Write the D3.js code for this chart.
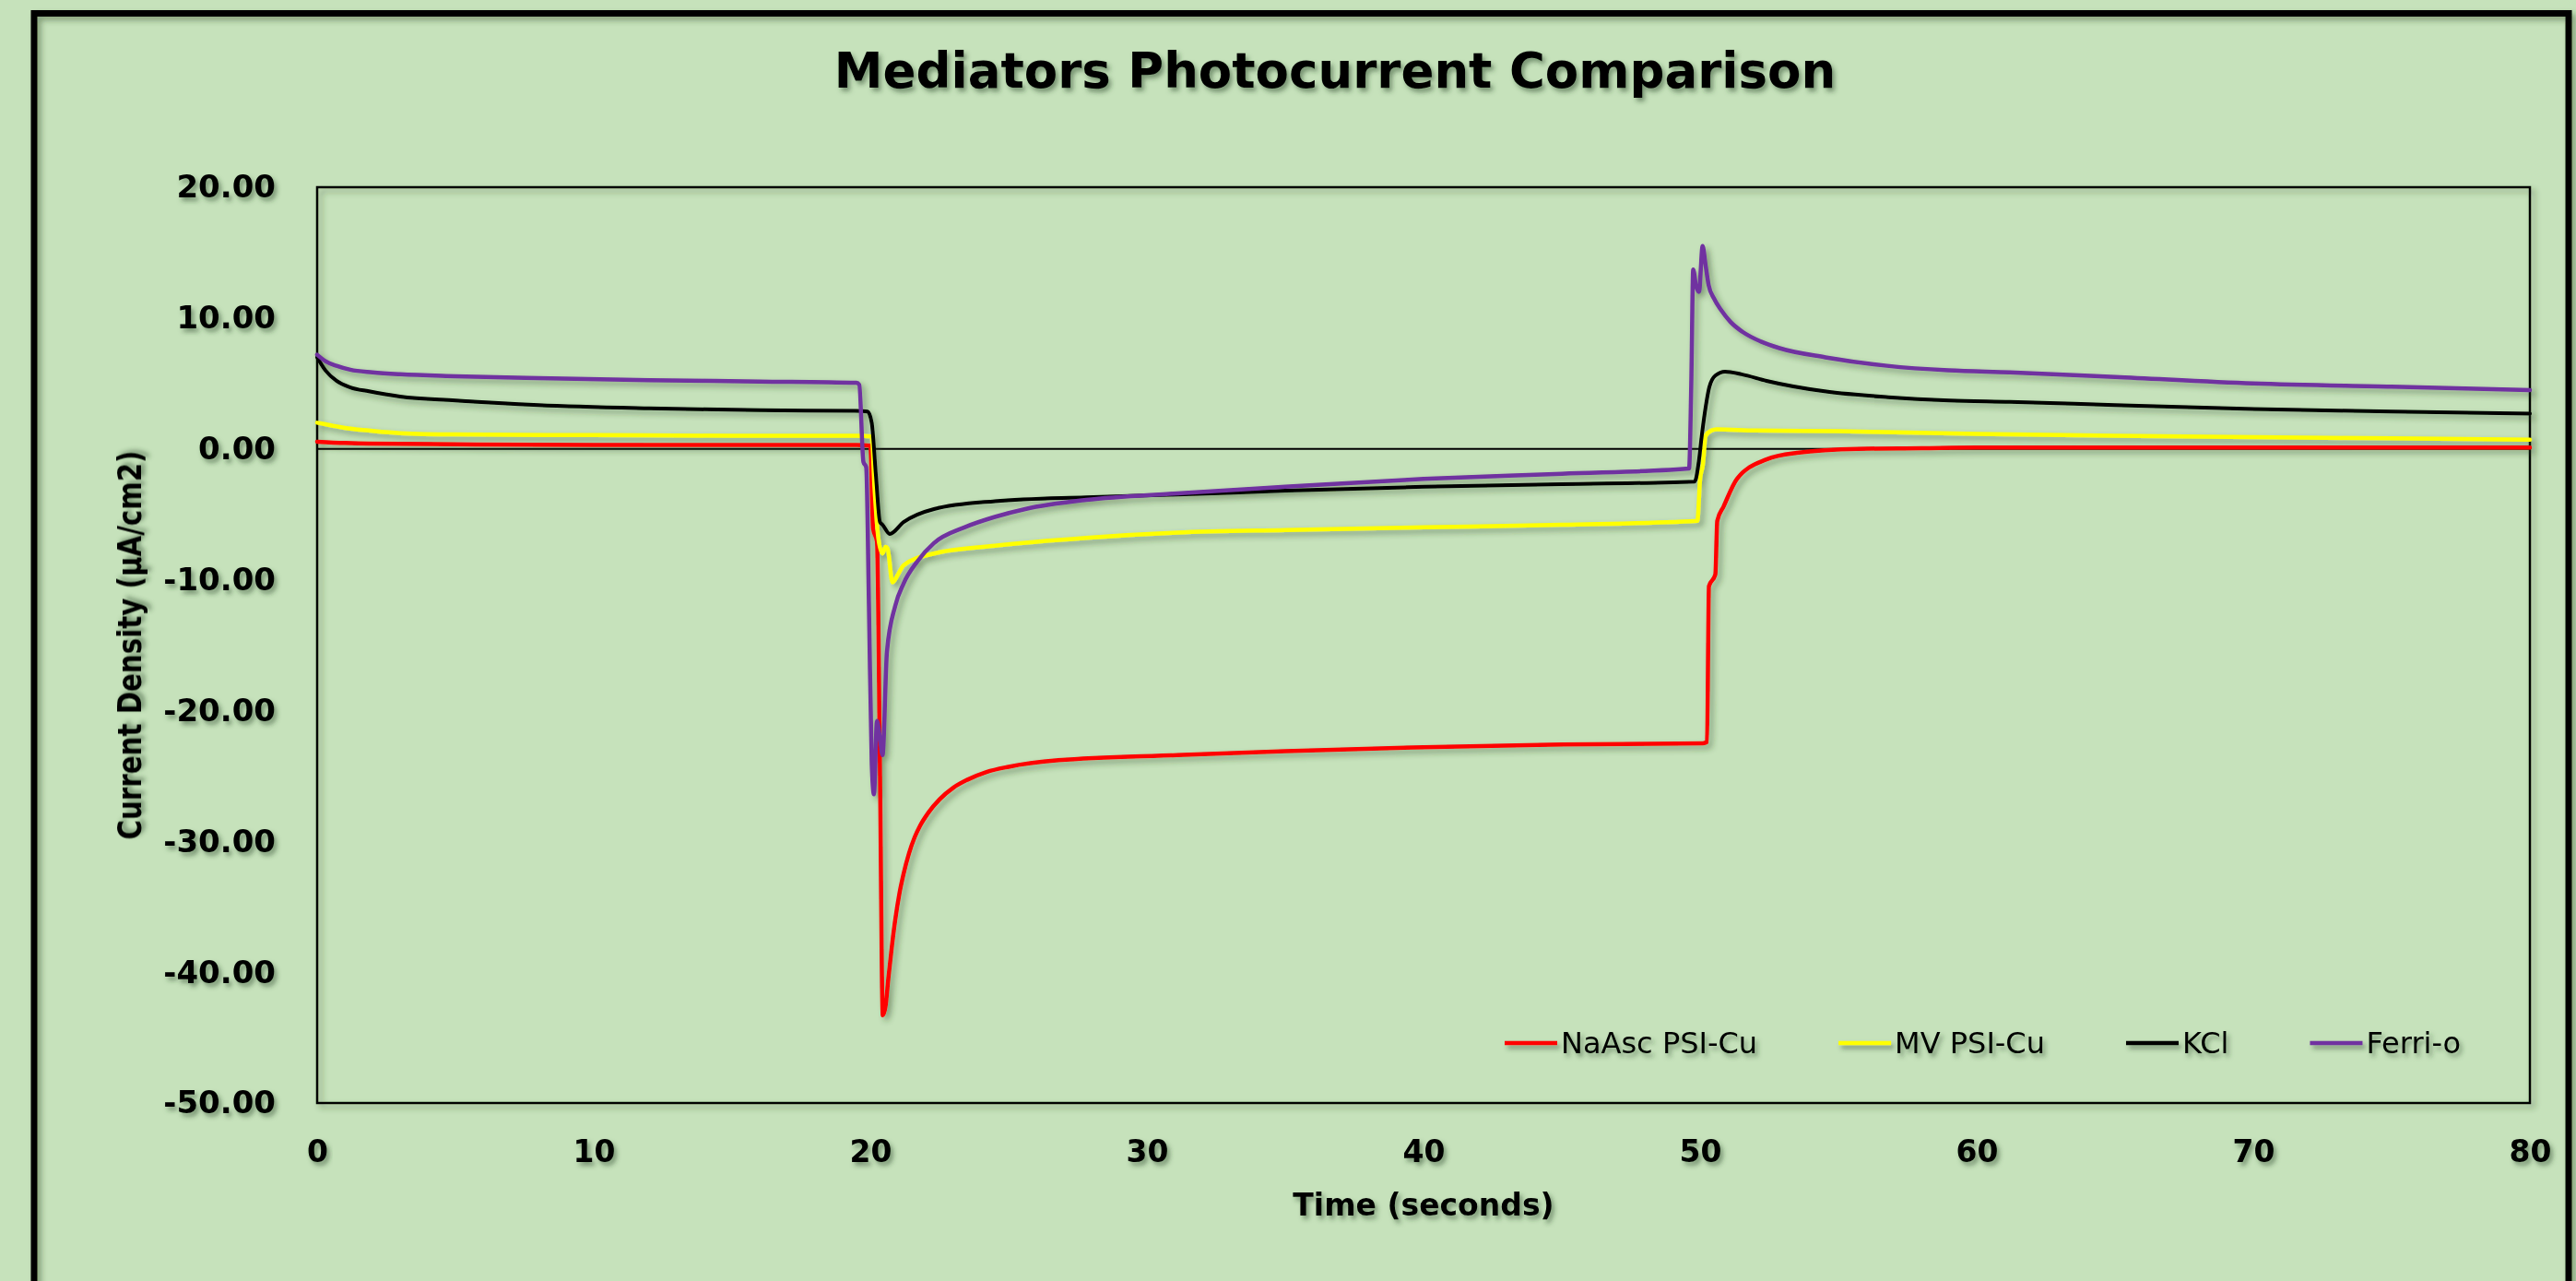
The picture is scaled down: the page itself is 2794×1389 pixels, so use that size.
<!DOCTYPE html>
<html><head><meta charset="utf-8">
<script src="https://cdn.jsdelivr.net/npm/d3@7"></script>
<style>
html,body{margin:0;padding:0;background:#c6e2bb;overflow:hidden;}
svg{display:block;}
</style></head>
<body>
<svg id="chart" width="2794" height="1389"></svg>
<script>
// ---------- data ----------
const chartTitle = "Mediators Photocurrent Comparison";
const xTitle = "Time (seconds)";
const yTitle = "Current Density (µA/cm2)";
const xTicks = [0, 10, 20, 30, 40, 50, 60, 70, 80];
const yTicks = [20, 10, 0, -10, -20, -30, -40, -50];
const seriesNames = ["NaAsc PSI-Cu", "MV PSI-Cu", "KCl", "Ferri-o"];
const seriesColors = ["#ff0000", "#ffff00", "#000000", "#7030a0"];

const naAscT = [0,1,1.87,5,10,15,19.5,20.0,20.1,20.24,20.35,20.45,20.55,20.65,20.78,20.9,21.05,21.2,21.4,21.6,21.8,22.1,22.5,23.0,23.5,24.2,25.0,26.8,31.1,35,40,45,50.1,50.25,50.32,50.55,50.62,50.85,51.33,52.4,53.5,55.7,58,60,65,70,75,80];
const naAscV = [0.55,0.45,0.4,0.35,0.3,0.3,0.3,0.25,-6.1,-7.1,-25,-43.3,-42.6,-40.5,-38.0,-36.0,-34.0,-32.5,-30.9,-29.7,-28.8,-27.8,-26.8,-25.9,-25.3,-24.7,-24.3,-23.8,-23.4,-23.1,-22.8,-22.6,-22.5,-22.4,-10.5,-9.6,-5.5,-4.4,-2.3,-0.8,-0.3,0.0,0.05,0.1,0.1,0.1,0.1,0.1];

const mvT = [0,0.5,1,1.87,3,5,10,15,19.5,20.05,20.15,20.3,20.44,20.55,20.62,20.8,21.0,21.2,22.3,24.5,27.8,31.1,35,40,45,49.9,50.0,50.1,50.2,50.4,50.6,52,55,60,65,70,75,80];
const mvV = [2.0,1.8,1.6,1.4,1.2,1.1,1.05,1.0,1.0,0.95,-3,-7,-8.0,-7.5,-7.6,-10.2,-9.6,-8.9,-8.0,-7.4,-6.8,-6.4,-6.2,-6.0,-5.8,-5.5,-2.3,-1.2,1.0,1.4,1.5,1.4,1.35,1.15,1.0,0.9,0.8,0.7];

const kclT = [0,0.3,0.7,1.2,1.87,3,5,8,12,16,19.5,19.9,20.05,20.2,20.35,20.44,20.7,21.2,22.3,24.5,27.8,31.1,35,40,45,49.8,49.95,50.05,50.2,50.33,50.55,50.9,51.5,52.4,54.5,56.8,59,61.2,65,70,75,80];
const kclV = [7.0,6.0,5.2,4.7,4.4,4.0,3.7,3.35,3.1,2.95,2.9,2.85,2.0,-2.0,-5.6,-5.8,-6.5,-5.6,-4.6,-4.0,-3.7,-3.5,-3.2,-2.9,-2.7,-2.5,-1.0,0.85,3.2,4.7,5.6,5.9,5.7,5.2,4.4,3.95,3.7,3.6,3.35,3.05,2.85,2.7];

const ferriT = [0,0.3,0.7,1.2,2,3,5,8,12,16,19.5,19.6,19.75,19.85,19.95,20.05,20.13,20.24,20.34,20.44,20.6,20.9,21.2,21.7,22.3,23.4,24.5,25.6,27.8,31.1,35,40,45,49.6,49.68,49.75,49.85,49.96,50.09,50.2,50.31,50.5,50.76,51.1,51.53,52.2,52.87,54.53,56.76,58.98,61.2,65,70,75,80];
const ferriV = [7.2,6.7,6.35,6.05,5.85,5.7,5.55,5.4,5.25,5.15,5.05,4.9,-1.0,-1.4,-12,-24,-26.4,-20.8,-22,-23.4,-15.5,-12.0,-10.3,-8.6,-7.2,-6.0,-5.2,-4.6,-3.9,-3.4,-2.9,-2.3,-1.9,-1.5,5,13.7,12.5,12.0,15.5,14,12.5,11.5,10.6,9.7,8.95,8.2,7.7,7.0,6.35,6.0,5.85,5.5,5.0,4.75,4.5];

const seriesT = [naAscT, mvT, kclT, ferriT];
const seriesV = [naAscV, mvV, kclV, ferriV];

// ---------- layout ----------
const W = 2794, H = 1389;
const plot = {left: 344, top: 203, right: 2744, bottom: 1196};
const svg = d3.select("#chart");
const FONT = "'DejaVu Sans', sans-serif";

const defs = svg.append("defs");
const f1 = defs.append("filter").attr("id","shadow").attr("filterUnits","userSpaceOnUse")
  .attr("x",0).attr("y",0).attr("width",W).attr("height",H);
f1.append("feDropShadow").attr("dx",4).attr("dy",4).attr("stdDeviation",3)
  .attr("flood-color","#2c4526").attr("flood-opacity",0.45);
const f2 = defs.append("filter").attr("id","tshadow")
  .attr("x","-20%").attr("y","-50%").attr("width","140%").attr("height","200%");
f2.append("feDropShadow").attr("dx",3).attr("dy",4).attr("stdDeviation",2.5)
  .attr("flood-color","#2c4526").attr("flood-opacity",0.5);

svg.append("rect").attr("width",W).attr("height",H).attr("fill","#c6e2bb");

// outer border
svg.append("rect").attr("x",37).attr("y",14.5).attr("width",2749).attr("height",1420)
  .attr("fill","none").attr("stroke","#000").attr("stroke-width",7).attr("filter","url(#shadow)");

const x = d3.scaleLinear().domain([0,80]).range([plot.left, plot.right]);
const y = d3.scaleLinear().domain([-50,20]).range([plot.bottom, plot.top]);

// plot frame
svg.append("rect").attr("x",plot.left).attr("y",plot.top)
  .attr("width",plot.right-plot.left).attr("height",plot.bottom-plot.top)
  .attr("fill","none").attr("stroke","#000").attr("stroke-width",2.5).attr("filter","url(#shadow)");

// zero line
svg.append("line").attr("x1",x(0)).attr("x2",x(80)).attr("y1",y(0)).attr("y2",y(0))
  .attr("stroke","#000").attr("stroke-width",2);

// axes
const yAxis = svg.append("g").attr("transform",`translate(${plot.left},0)`)
  .call(d3.axisLeft(y).tickValues(yTicks).tickFormat(d => d.toFixed(2)).tickSize(0).tickPadding(45));
const xAxis = svg.append("g").attr("transform",`translate(0,${plot.bottom})`)
  .call(d3.axisBottom(x).tickValues(xTicks).tickFormat(d => String(d)).tickSize(0).tickPadding(41));
[yAxis, xAxis].forEach(a => {
  a.select(".domain").remove();
  a.selectAll("text").attr("font-family",FONT).attr("font-weight","bold")
    .attr("font-size",a===yAxis?34:33).attr("fill","#000").attr("filter","url(#tshadow)");
});

// lines
const line = d3.line().x(d => x(d[0])).y(d => y(d[1])).curve(d3.curveMonotoneX);
const lg = svg.append("g").attr("filter","url(#shadow)");
seriesNames.forEach((name,i) => {
  const pts = seriesT[i].map((t,j) => [t, seriesV[i][j]]);
  lg.append("path").datum(pts).attr("d",line).attr("fill","none")
    .attr("stroke",seriesColors[i]).attr("stroke-width", i===2?4:4.5)
    .attr("stroke-linejoin","round").attr("stroke-linecap","round");
});

// title
svg.append("text").attr("x",1448).attr("y",95).attr("text-anchor","middle")
  .attr("font-family",FONT).attr("font-weight","bold").attr("font-size",53)
  .attr("filter","url(#tshadow)").text(chartTitle);

// axis titles
svg.append("text").attr("x",(plot.left+plot.right)/2).attr("y",1318).attr("text-anchor","middle")
  .attr("font-family",FONT).attr("font-weight","bold").attr("font-size",33)
  .attr("filter","url(#tshadow)").text(xTitle);
svg.append("text").attr("transform",`translate(153,${(plot.top+plot.bottom)/2}) rotate(-90)`)
  .attr("text-anchor","middle").attr("font-family",FONT).attr("font-weight","bold").attr("font-size",36)
  .attr("textLength",422).attr("lengthAdjust","spacingAndGlyphs")
  .attr("filter","url(#tshadow)").text(yTitle);

// legend
const legY = 1131;
let lx = 1632;
const leg = svg.append("g").attr("filter","url(#tshadow)");
seriesNames.forEach((name,i) => {
  leg.append("line").attr("x1",lx).attr("x2",lx+57).attr("y1",legY).attr("y2",legY)
    .attr("stroke",seriesColors[i]).attr("stroke-width",4.5);
  const t = leg.append("text").attr("x",lx+61).attr("y",legY+11)
    .attr("font-family",FONT).attr("font-size",32).attr("fill","#000").text(name);
  lx += 61 + t.node().getComputedTextLength() + 88;
});
</script>
</body></html>
